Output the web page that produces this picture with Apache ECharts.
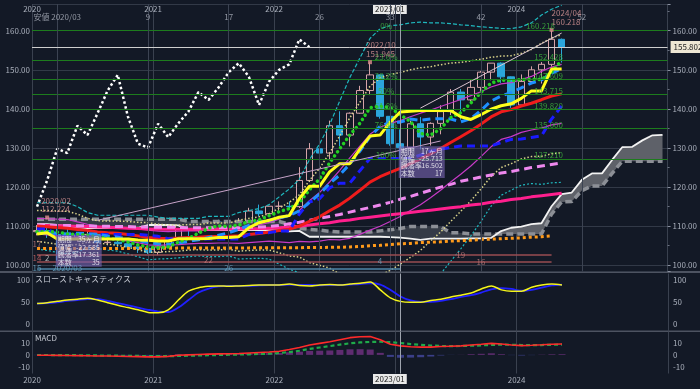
<!DOCTYPE html>
<html>
<head>
<meta charset="utf-8">
<script src="https://cdn.jsdelivr.net/npm/echarts@6/dist/echarts.min.js"></script>
<style>
html,body{margin:0;padding:0;background:#131926;}
#c{width:700px;height:389px;}
</style>
</head>
<body>
<div id="c"></div>
<script>
// ---------- categories (monthly) ----------
const months = [
'2020/01','2020/02','2020/03','2020/04','2020/05','2020/06','2020/07','2020/08','2020/09','2020/10','2020/11','2020/12',
'2021/01','2021/02','2021/03','2021/04','2021/05','2021/06','2021/07','2021/08','2021/09','2021/10','2021/11','2021/12',
'2022/01','2022/02','2022/03','2022/04','2022/05','2022/06','2022/07','2022/08','2022/09','2022/10','2022/11','2022/12',
'2023/01','2023/02','2023/03','2023/04','2023/05','2023/06','2023/07','2023/08','2023/09','2023/10','2023/11','2023/12',
'2024/01','2024/02','2024/03','2024/04','2024/05','2024/06','2024/07','2024/08','2024/09','2024/10','2024/11','2024/12',
'2025/01','2025/02','2025/03'];
const yearLabels = ['2020','2021','2022','','2024'];

// ---------- prices ----------
const openP  = [108.6,108.9,107.9,107.5,107.2,107.8,107.9,105.8,105.9,105.5,104.7,104.3,103.3,104.7,106.6,110.7,109.3,109.6,111.1,109.7,110.0,111.3,113.9,113.2,115.1,115.1,115.0,121.7,129.8,128.7,135.7,133.3,138.9,144.7,148.7,138.1,131.1,130.1,136.2,132.8,136.3,139.3,144.3,142.3,145.5,149.4,151.7,148.2,141.0,147.0,150.0,151.4,157.8];
const closeP = [108.9,107.9,107.5,107.2,107.8,107.9,105.8,105.9,105.5,104.7,104.3,103.3,104.7,106.6,110.7,109.3,109.6,111.1,109.7,110.0,111.3,113.9,113.2,115.1,115.1,115.0,121.7,129.8,128.7,135.7,133.3,138.9,144.7,148.7,138.1,131.1,130.1,136.2,132.8,136.3,139.3,144.3,142.3,145.5,149.4,151.7,148.2,141.0,147.0,150.0,151.4,157.8,155.8];
const lowP   = [107.65,107.00,101.18,106.36,105.99,106.07,104.19,105.10,104.00,104.03,103.18,102.88,102.59,104.41,106.37,107.48,108.34,109.19,109.06,109.11,109.11,110.82,112.53,112.56,113.47,114.15,114.65,121.28,126.36,126.87,130.40,130.39,138.77,143.53,137.50,130.57,127.21,128.08,129.64,130.63,133.50,138.43,137.24,141.51,144.44,147.32,146.67,140.25,140.81,146.48,146.48,150.81,151.86];
const highP  = [110.29,112.22,111.71,109.38,108.08,109.85,108.16,107.05,106.55,105.80,105.68,104.75,104.94,106.69,110.97,110.96,110.20,111.11,111.66,110.80,112.08,114.70,115.52,115.21,116.35,116.34,125.10,131.26,131.35,137.00,139.39,139.08,145.90,151.945,148.82,138.18,134.77,136.92,137.91,136.56,140.93,145.07,145.07,147.37,149.71,151.72,151.91,148.31,148.81,150.89,151.97,160.218,157.99];

// ---------- ichimoku ----------
const tenkan = [108.0,108.3,106.7,106.7,106.7,106.7,106.7,106.7,106.7,106.7,106.45,106.4,106.2,106.2,106.8,106.8,106.8,106.85,107.1,107.1,107.3,109.6,110.9,111.5,112.3,112.7,117.1,120.2,120.2,123.9,126.0,126.0,129.7,133.05,133.3,136.6,139.2,139.4,139.6,139.6,139.6,139.6,138.0,137.3,138.5,139.9,140.8,141.3,142.7,144.6,144.6,150.2,150.2];
const kijun  = [109.3,109.3,107.9,107.9,107.9,107.9,107.9,107.9,107.9,107.9,107.9,107.7,107.4,106.8,106.8,106.8,106.8,106.7,106.7,106.7,106.7,107.9,108.35,108.35,108.8,108.8,113.1,116.2,117.0,119.8,121.0,121.0,124.2,127.3,127.3,127.3,127.3,127.3,128.2,129.2,129.7,130.1,130.5,130.5,130.5,130.5,131.4,132.2,132.3,132.7,133.1,137.4,140.7];
const spanA  = [110.5,110.5,110.3,110.0,109.7,109.5,109.5,109.5,109.5,109.5,109.6,110.3,110.3,110.3,110.2,109.2,109.0,109.0,109.0,109.0,109.0,109.0,109.0,109.0,108.9,108.65,108.8,107.3,107.3,107.3,107.3,107.3,107.3,107.3,107.3,107.2,107.05,106.8,106.5,106.8,106.8,106.8,106.8,106.9,106.9,107.0,108.75,109.6,109.9,110.55,110.75,115.1,118.2,118.6,121.85,123.5,123.5,126.95,130.2,130.3,131.95,133.25,133.35];
const spanB  = [111.8,111.8,111.8,111.8,111.8,111.8,111.8,111.8,111.8,111.8,111.8,111.8,111.8,111.8,111.8,111.2,111.2,111.2,111.2,111.2,111.2,111.2,111.2,111.2,111.2,110.5,109.5,109.2,109.0,108.7,108.5,108.5,108.5,108.5,108.8,109.1,109.4,109.9,109.9,109.9,109.9,108.3,108.3,108.0,108.0,108.0,108.0,108.0,108.0,108.0,108.0,113.1,116.2,116.3,119.1,120.3,120.3,123.5,126.6,126.6,126.6,126.6,126.6];
const chikou = [115.0,121.7,129.8,128.7,135.7,133.3,138.9,144.7,148.7,138.1,131.1,130.1,136.2,132.8,136.3,139.3,144.3,142.3,145.5,149.4,151.7,148.2,141.0,147.0,150.0,151.4,157.8,155.8];

// ---------- moving averages ----------
const ma5  = [108.6,108.6,108.5,108.0,107.9,107.7,107.2,106.9,106.6,106.0,105.2,104.7,104.5,104.7,105.9,106.9,108.2,109.5,110.1,109.9,110.3,111.2,111.6,112.7,113.7,114.5,116.0,119.3,122.1,126.2,129.8,133.3,136.3,140.3,140.7,140.3,138.5,136.8,133.7,133.3,134.9,137.8,139.0,141.5,144.2,146.6,147.4,147.2,147.5,147.6,147.5,149.4,152.4];
const ma9  = [108.3,108.2,108.2,108.0,108.2,108.1,107.9,107.5,107.2,106.7,106.3,105.8,105.5,105.4,105.7,106.1,106.5,107.1,107.7,108.3,109.2,110.2,111.0,111.5,112.1,112.7,113.9,116.1,118.2,120.9,123.1,125.9,129.2,132.9,135.5,136.6,136.6,137.4,137.1,137.4,137.5,137.4,136.7,137.5,139.6,142.0,143.3,144.2,145.4,146.6,147.4,149.1,150.3];
const ma20 = [110.03,109.88,109.66,109.47,109.18,108.93,108.54,108.35,108.18,107.85,107.52,107.11,106.93,106.87,106.97,107.12,107.19,107.35,107.36,107.43,107.55,107.85,108.13,108.53,108.89,109.25,110.04,111.24,112.40,113.95,115.40,117.18,119.18,121.28,122.65,123.74,124.77,126.02,127.18,128.49,129.89,131.41,132.87,134.39,136.10,137.94,139.26,139.82,140.74,141.45,142.35,143.30,143.85];
const maLong = [110.2,110.15,110.1,110.05,110.0,109.9,109.8,109.7,109.6,109.5,109.4,109.3,109.2,109.2,109.2,109.2,109.2,109.2,109.25,109.3,109.3,109.35,109.4,109.5,109.6,109.8,110.0,110.3,110.6,110.9,111.3,111.6,112.0,112.3,112.6,112.9,113.2,113.5,113.8,114.1,114.4,114.7,115.0,115.4,115.7,116.1,116.4,116.8,117.1,117.5,117.8,118.1,118.4];
const ma52 = [110.3,110.3,110.2,110.2,110.1,110.1,110.0,110.0,109.9,109.9,109.8,109.8,109.7,109.7,109.7,109.6,109.6,109.6,109.6,109.6,109.6,109.7,109.8,109.9,110.2,110.6,111.0,111.5,112.0,112.5,113.0,113.6,114.2,114.8,115.4,116.1,116.9,117.6,118.4,119.2,120.0,120.7,121.5,122.0,122.6,123.1,123.6,124.0,124.5,125.0,125.4,125.8,126.2];
const maOrange = [104.3,104.3,104.3,104.3,104.3,104.3,104.3,104.3,104.3,104.3,104.35,104.35,104.35,104.35,104.4,104.4,104.4,104.4,104.4,104.45,104.45,104.45,104.5,104.5,104.5,104.5,104.5,104.55,104.55,104.6,104.6,104.7,104.8,105.0,105.1,105.3,105.5,105.6,105.8,105.9,106.0,106.2,106.3,106.4,106.6,106.7,106.8,106.9,107.0,107.2,107.3,107.5];

// ---------- bollinger bands ----------
const bbU1 = [112.0,111.9,111.8,111.7,111.1,110.5,110.0,109.8,109.7,109.5,109.3,109.0,108.7,108.6,108.7,108.8,108.8,109.1,109.1,109.1,109.5,109.9,110.3,110.9,111.8,112.7,114.0,116.5,118.6,121.3,124.3,127.5,130.5,133.5,135.3,136.3,137.0,138.0,138.9,139.7,140.6,141.5,142.4,143.4,144.4,145.6,146.4,146.7,147.5,148.3,149.6,150.7,151.4];
const bbU2 = [114.0,114.0,113.9,113.8,113.1,112.0,111.4,111.3,111.3,111.2,111.0,110.9,110.5,110.3,110.3,110.4,110.4,110.8,110.8,110.8,111.5,112.0,112.4,113.2,114.6,116.1,118.0,121.7,124.8,128.7,133.1,137.7,141.7,145.8,147.9,148.8,149.3,150.0,150.5,150.8,151.3,151.7,151.9,152.3,152.7,153.2,153.5,153.6,154.2,155.2,156.8,158.1,159.0];
const bbU3 = [116.0,116.0,116.0,116.0,115.0,113.5,112.8,112.8,112.8,112.8,112.8,112.8,112.3,112.0,112.0,112.0,112.0,112.5,112.5,112.5,113.5,114.0,114.5,115.5,117.5,119.5,122.0,127.0,131.0,136.0,142.0,148.0,153.0,158.0,160.5,161.3,161.5,162.0,162.2,162.0,162.0,161.8,161.5,161.3,161.0,160.8,160.6,160.5,161.0,162.0,164.0,165.5,166.5];
const bbL1 = [108.0,107.8,107.6,107.3,107.2,107.4,107.1,106.9,106.6,106.2,105.8,105.2,105.1,105.2,105.3,105.5,105.6,105.6,105.7,105.7,105.6,105.8,106.0,106.2,106.0,105.8,106.1,106.0,106.2,106.6,106.5,106.9,107.9,109.0,110.0,111.2,112.5,114.0,115.5,117.3,119.2,121.3,123.3,125.4,127.8,130.3,132.2,132.9,134.0,134.6,135.1,135.9,136.3];
const bbL2 = [106.1,105.8,105.4,105.1,105.3,105.9,105.7,105.4,105.1,104.6,104.0,103.3,103.4,103.5,103.6,103.9,104.0,103.9,103.9,104.1,103.6,103.8,103.9,103.9,103.2,102.4,102.1,100.7,100.0,99.3,97.7,96.6,96.6,96.8,97.4,98.7,100.3,102.0,103.8,106.2,108.5,111.2,113.8,116.5,119.5,122.7,125.0,126.0,127.2,127.8,127.9,128.5,128.8];
const bbL3 = [104.1,103.8,103.3,102.9,103.4,104.4,104.3,103.9,103.6,102.9,102.2,101.4,101.6,101.7,101.9,102.2,102.4,102.2,102.2,102.4,101.6,101.7,101.8,101.6,100.3,99.0,98.1,95.5,93.8,91.9,88.8,86.4,85.4,84.6,84.8,86.2,88.0,90.0,92.2,95.0,97.8,101.0,104.2,107.5,111.2,115.1,117.9,119.2,120.5,120.9,120.7,121.1,121.2];

// ---------- oscillators ----------
const stochK = [47,49,52,55,57,59,55,49,43,38,33,27,26,33,55,75,83,86,87,86,87,88,89,89,89,91,88,87,89,90,89,91,93,96,78,60,52,50,50,54,57,62,66,71,80,87,78,75,75,84,89,91,89];
const stochD = [47,48,50,53,55,57,57,53,48,43,38,33,29,28,38,55,72,81,86,87,87,87,88,89,89,90,89,89,88,89,89,90,91,93,90,78,63,54,51,51,53,57,62,66,72,79,82,80,76,78,83,88,90];
const macdLine = [-0.3,-0.3,-0.4,-0.5,-0.6,-0.7,-0.9,-1.0,-1.2,-1.4,-1.5,-1.7,-1.7,-1.3,-0.3,0.0,0.3,0.6,0.8,1.0,1.2,1.6,2.0,2.4,3.1,4.5,6.2,8.3,9.7,11.1,12.8,14.5,15.3,15.4,12.8,9.0,7.6,6.8,6.5,6.5,7.0,7.3,7.6,8.3,8.9,9.7,9.2,8.3,7.8,8.1,8.5,9.0,9.2];
const signalLine = [-0.1,-0.1,-0.2,-0.2,-0.3,-0.4,-0.5,-0.6,-0.7,-0.8,-0.9,-1.0,-1.1,-1.1,-0.9,-0.7,-0.5,-0.3,-0.1,0.1,0.3,0.5,0.8,1.0,1.6,2.3,3.5,5.0,6.2,7.4,8.6,9.8,10.5,10.9,11.1,10.7,10.0,9.1,8.5,7.9,7.5,7.4,7.5,7.7,8.0,8.4,8.6,8.5,8.3,8.3,8.3,8.5,8.6];
const macdHist = [-0.2,-0.2,-0.2,-0.3,-0.3,-0.3,-0.4,-0.4,-0.5,-0.6,-0.6,-0.7,-0.6,-0.2,0.6,0.7,0.8,0.9,0.9,0.9,0.9,1.1,1.2,1.4,1.5,2.2,2.7,3.3,3.5,3.7,4.2,4.7,4.8,4.5,1.7,-1.7,-2.4,-2.3,-2.0,-1.4,-0.5,-0.1,0.1,0.6,0.9,1.3,0.6,-0.2,-0.5,-0.2,0.2,0.5,0.6];

// ---------- annotations ----------
const fibValues = [160.218,152.428,147.609,143.715,139.820,135.000,127.210];
const fibPct    = ['0%','23.6%','38.2%','50%','61.8%','76.4%','100%'];
const fibText   = ['160.218','152.428','147.609','143.715','139.820','135.000','127.210'];
const countIdx  = [2,11,19,28,35,44,54];
const countText = ['安値 2020/03','9','17','26','33','42','52'];
const lastPrice = 155.802;
const peakIdx   = [1,33,51];
const peakText  = ['2020/02\n112.224','2022/10\n151.945','2024/04\n160.218'];
const boxKeys   = ['期間','値幅','騰落率','本数'];
const box1Vals  = ['35ヶ月','-22.585','-17.361','35'];
const box2Vals  = ['17ヶ月','-25.713','-16.502','17'];
const trend1    = [[6,111.5],[40,131.8]];
const trend2    = [[38,140.2],[52,159.4]];
const cycleLevels = [102.63,100.84,99.05];
const bottomCounts = [[0,105.4,'17','#c27c7c'],[0,102.0,'14','#d06a6a'],[1,102.0,'2','#d0d0d0'],[0,99.2,'15','#6aa6c6'],[3,99.2,'2020/03','#6aa6c6'],[17,101.4,'22','#c27c7c'],[19,99.3,'26','#6aa6c6'],[34,101.1,'4','#6aa6c6'],[42,102.6,'19','#c27c7c'],[44,100.9,'16','#c27c7c']];

// ---------- build ----------
const BG = '#131926';
const FONT = 'Noto Sans CJK JP';
const yearInt = (i) => i % 12 === 0 && i < 60;
const chart = echarts.init(document.getElementById('c'));

const ohlc = openP.map((o,i)=>[o, closeP[i], lowP[i], highP[i]]);
const kumoLow = spanA.map((a,i)=>Math.min(a, spanB[i]));
const kumoUp  = spanA.map((a,i)=>Math.max(a - spanB[i], 0));
const kumoDn  = spanA.map((a,i)=>Math.max(spanB[i] - a, 0));

function ln(data, color, width, type, extra) {
  return Object.assign({type:'line', xAxisIndex:0, yAxisIndex:0, data:data, symbol:'none', silent:true,
    lineStyle:{color:color, width:width, type:type || 'solid'}}, extra || {});
}
function seg(p, color, width) {
  return [{coord:[months[p[0][0]], p[0][1]], lineStyle:{color:color, width:width, type:'solid'}, label:{show:false}},
          {coord:[months[p[1][0]], p[1][1]]}];
}

const xAxes = [0,1,2].map(g => ({
  type:'category', gridIndex:g, data:months, boundaryGap:true,
  position: g === 0 ? 'top' : 'bottom',
  axisLine:{show:false}, axisTick:{show:false},
  axisLabel: g === 1 ? {show:false} : {
    show:true, inside: g === 0, margin: g === 0 ? 1 : 2, interval: yearInt,
    color:'#a9afbb', fontSize:8, padding:[0,10,0,0],
    formatter:(v, idx)=> (idx % 12 === 0 && idx < 60) ? yearLabels[idx / 12] : ''
  },
  splitLine:{show:true, interval: yearInt, lineStyle:{color:'#3a414f', width:1}}
}));

function yAx(g, pos, min, max, split, fmt, main) {
  return {
    type:'value', gridIndex:g, position:pos, min:min, max:max, splitNumber:split,
    axisLine:{show:false},
    axisTick:{show: main && pos === 'right', length:3, lineStyle:{color:'#8a90a0'}},
    minorTick:{show: main && pos === 'right', splitNumber:2, length:2, lineStyle:{color:'#6a7080'}},
    axisLabel:{color:'#a9afbb', fontSize:8, margin: pos === 'left' ? 2 : 5, formatter:fmt, showMinLabel:false, showMaxLabel:false},
    splitLine:{show: main && pos === 'left', lineStyle:{color:'#323947', width:1}}
  };
}
const f2 = v => v.toFixed(2);
const f0 = v => String(Math.round(v));
const yAxes = [
  yAx(0,'left',98.41,166.83,7,f2,true), yAx(0,'right',98.41,166.83,7,f2,true),
  yAx(1,'left',-15,115,3,f0,false), yAx(1,'right',-15,115,3,f0,false),
  yAx(2,'left',-15.7,19.7,4,f0,false), yAx(2,'right',-15.7,19.7,4,f0,false)
];

// label scatter data
const notes = [];
countIdx.forEach((ix,k)=> notes.push({value:[months[ix],163.6], label:{show:true, position:'inside', formatter:countText[k], color:'#b3b8c3', fontSize:8}}));
fibValues.forEach((v,k)=> {
  notes.push({value:['2022/12',v], label:{show:true, position:'top', distance:0, offset:[-4,1], formatter:fibPct[k], color:'#3fb83f', fontSize:8}});
  notes.push({value:['2024/04',v], label:{show:true, position:'top', distance:0, offset:[k===0?-11:-3,1], formatter:fibText[k], color:'#3fb83f', fontSize:8}});
});
peakIdx.forEach((ix,k)=> notes.push({value:[months[ix], highP[ix]], symbol:'rect', symbolSize:4, itemStyle:{color:'#e08c8c'},
  label:{show:true, position:[ix===1?-4:(ix===33?-2:2), -19], formatter:peakText[k], color:'#e09a9a', fontSize:8, lineHeight:8.5}}));
function boxLabel(vals){
  return boxKeys.map((k,i)=>'{k|'+k+'}{v|'+vals[i]+'}').join('\n');
}
const boxRich = {k:{color:'#fff', fontSize:7, width:18, lineHeight:7.4}, v:{color:'#fff', fontSize:7, width:24, align:'right', lineHeight:7.4}};
notes.push({value:['2020/03',107.6], label:{show:true, position:[-1,0], formatter:boxLabel(box1Vals), backgroundColor:'rgba(118,100,178,0.78)', padding:[1,2], rich:boxRich}});
notes.push({value:['2023/01',130.3], label:{show:true, position:[-1,0], formatter:boxLabel(box2Vals), backgroundColor:'rgba(118,100,178,0.78)', padding:[1,2], rich:boxRich}});
bottomCounts.forEach(b=> notes.push({value:[months[b[0]], b[1]], label:{show:true, position:'inside', formatter:b[2], color:b[3], fontSize:8}}));

const series = [
  // kumo fill
  ln(kumoLow,'rgba(0,0,0,0)',0,'solid',{stack:'kumo', lineStyle:{opacity:0}}),
  ln(kumoUp,'rgba(0,0,0,0)',0,'solid',{stack:'kumo', lineStyle:{opacity:0}, areaStyle:{color:'#5e6169', opacity:1}}),
  ln(kumoDn,'rgba(0,0,0,0)',0,'solid',{stack:'kumo', lineStyle:{opacity:0}, areaStyle:{color:'#353b46', opacity:1}}),
  // annotation lines (fib, counts, price)
  {type:'line', xAxisIndex:0, yAxisIndex:0, data:[], silent:true,
    markLine:{silent:true, symbol:['none','none'], animation:false, data:[
      ...fibValues.map(v=>({yAxis:v, lineStyle:{color:'#1d7c1d', width:1, type:'solid'}, label:{show:false}})),
      ...countIdx.map(ix=>({xAxis:months[ix], lineStyle:{color:'#3c4352', width:1, type:'solid'}, label:{show:false}})),
      {xAxis:'2023/01', lineStyle:{color:'#9ea4ae', width:1, type:'solid'}, label:{show:false}},
      seg([[0,cycleLevels[0]],[51,cycleLevels[0]]], '#9a4d52', 1.5),
      seg([[0,cycleLevels[1]],[51,cycleLevels[1]]], '#9a4d52', 1.5),
      seg([[0,cycleLevels[2]],[36,cycleLevels[2]]], '#4f86a8', 1.5),
      seg(trend1, '#c7a3c9', 1),
      seg(trend2, '#d9c3cf', 1),
      {yAxis:lastPrice, lineStyle:{color:'#cfcfcf', width:1, type:'solid'},
        label:{show:true, position:'end', distance:3, formatter:'155.802', backgroundColor:'#eee7d4', color:'#222', padding:[2,3], fontSize:8}}
    ]}},
  // ichimoku spans
  ln(spanB,'#8c8f96',3.5,[7,4]),
  ln(spanA,'#f2f2f2',1.8,'solid'),
  // bollinger
  ln(bbU3,'#1fb8be',1.2,[4,2]), ln(bbL3,'#1fb8be',1.2,[2,2]),
  ln(bbU2,'#d9d38a',1.5,[1.5,2]), ln(bbL2,'#d9d38a',1.5,[1.5,2]),
  ln(bbU1,'#c63ac6',1.2,'solid'), ln(bbL1,'#c63ac6',1.2,'solid'),
  // long MAs
  ln(maOrange,'#ff9a1a',3,[3,3]),
  ln(maLong,'#ff1f8e',3,'solid'),
  ln(ma52,'#ee88ee',3,[8,5]),
  // candles
  {type:'candlestick', xAxisIndex:0, yAxisIndex:0, data:ohlc, barWidth:7, silent:true,
    itemStyle:{color:BG, color0:'#2ba6dc', borderColor:'#d6a3a8', borderColor0:'#2ba6dc', borderWidth:1}},
  // short MAs & ichimoku lines
  ln(ma20,'#f01c1c',3,'solid'),
  ln(kijun,'#1b1bff',3,[8,5]),
  ln(ma9,'#1e8fff',3,[8,5]),
  ln(ma5,'#23d023',3.5,[0.1,5],{lineStyle:{color:'#23d023', width:3.5, type:[0.1,5], cap:'round'}}),
  ln(tenkan,'#ffff1a',3,'solid'),
  ln(chikou,'#ffffff',2.5,[2.5,2.5]),
  // labels
  {type:'scatter', xAxisIndex:0, yAxisIndex:0, data:notes, symbolSize:1, itemStyle:{color:'rgba(0,0,0,0)'}, silent:true, z:10},
  // stochastics
  {type:'line', xAxisIndex:1, yAxisIndex:2, data:stochD, symbol:'none', smooth:0.3, silent:true, lineStyle:{color:'#2020ff', width:1.8},
    markLine:{silent:true, symbol:['none','none'], animation:false, data:[{xAxis:'2023/01', lineStyle:{color:'#9ea4ae', width:1, type:'solid'}, label:{show:false}}]}},
  {type:'line', xAxisIndex:1, yAxisIndex:2, data:stochK, symbol:'none', smooth:0.3, silent:true, lineStyle:{color:'#f5f51a', width:1.5}},
  // macd
  {type:'bar', xAxisIndex:2, yAxisIndex:4, barWidth:7, silent:true,
    data: macdHist.map(v=>({value:v, itemStyle:{color: v >= 0 ? '#5f2c70' : '#3b3f88'}})),
    markLine:{silent:true, symbol:['none','none'], animation:false, data:[{xAxis:'2023/01', lineStyle:{color:'#9ea4ae', width:1, type:'solid'}, label:{show:false}}]}},
  {type:'line', xAxisIndex:2, yAxisIndex:4, data:signalLine, symbol:'none', silent:true, lineStyle:{color:'#1faa4a', width:2.2, type:[4,3]}},
  {type:'line', xAxisIndex:2, yAxisIndex:4, data:macdLine, symbol:'none', silent:true, lineStyle:{color:'#ff2a2a', width:1.6}}
];

chart.setOption({
  backgroundColor: BG,
  animation: false,
  textStyle:{fontFamily: FONT},
  grid:[
    {left:32, right:32, top:4, height:267.5},
    {left:32, right:32, top:273.5, height:57.5},
    {left:32, right:32, top:331.5, height:42}
  ],
  xAxis: xAxes,
  yAxis: yAxes,
  series: series,
  graphic:[
    {type:'rect', silent:true, shape:{x:0, y:271, width:700, height:2}, style:{fill:'#4d5361'}},
    {type:'rect', silent:true, shape:{x:0, y:330.5, width:700, height:1.5}, style:{fill:'#4d5361'}},
    {type:'text', silent:true, x:35, y:275, style:{text:'スローストキャスティクス', fill:'#c5c9d2', fontSize:8, fontFamily:FONT}},
    {type:'text', silent:true, x:35, y:334, style:{text:'MACD', fill:'#c5c9d2', fontSize:8, fontFamily:FONT}},
    {type:'text', silent:true, x:373, y:4, style:{text:'2023/01', fill:'#222', backgroundColor:'#e9e9e9', padding:[1,2], fontSize:8, fontFamily:FONT}},
    {type:'text', silent:true, x:373, y:374, style:{text:'2023/01', fill:'#222', backgroundColor:'#e9e9e9', padding:[1,2], fontSize:8, fontFamily:FONT}}
  ]
});
</script>
</body>
</html>
